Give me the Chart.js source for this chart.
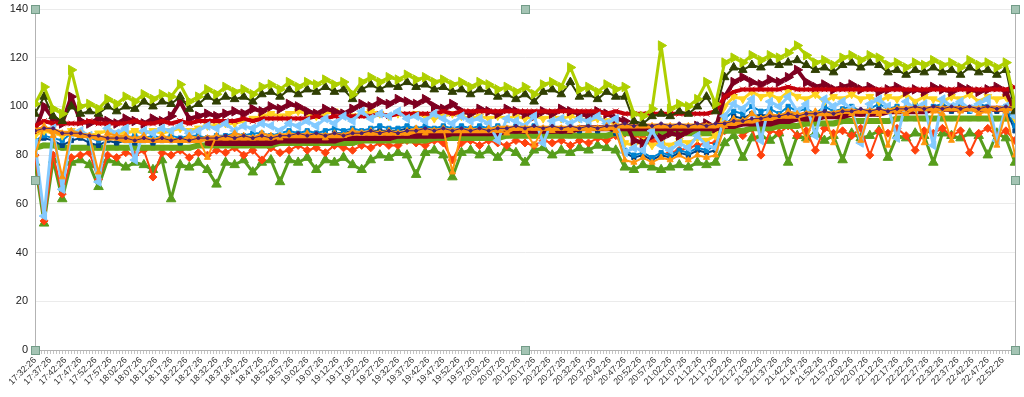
<!DOCTYPE html>
<html>
<head>
<meta charset="utf-8">
<script src="https://cdn.jsdelivr.net/npm/chart.js@4.4.1/dist/chart.umd.min.js"></script>
<style>
  html, body { margin: 0; padding: 0; background: #fff; }
  #wrap { width: 1024px; height: 397px; }
</style>
</head>
<body>
<div id="wrap"><canvas id="chart"></canvas></div>
<script>
// tick labels, one every 5 minutes
const tickLabels = ['17:32:26','17:37:26','17:42:26','17:47:26','17:52:26','17:57:26',
  '18:02:26','18:07:26','18:12:26','18:17:26','18:22:26','18:27:26','18:32:26','18:37:26','18:42:26','18:47:26','18:52:26','18:57:26',
  '19:02:26','19:07:26','19:12:26','19:17:26','19:22:26','19:27:26','19:32:26','19:37:26','19:42:26','19:47:26','19:52:26','19:57:26',
  '20:02:26','20:07:26','20:12:26','20:17:26','20:22:26','20:27:26','20:32:26','20:37:26','20:42:26','20:47:26','20:52:26','20:57:26',
  '21:02:26','21:07:26','21:12:26','21:17:26','21:22:26','21:27:26','21:32:26','21:37:26','21:42:26','21:47:26','21:52:26','21:57:26',
  '22:02:26','22:07:26','22:12:26','22:17:26','22:22:26','22:27:26','22:32:26','22:37:26','22:42:26','22:47:26','22:52:26']

// series values, read every 3 minutes
const lime = [101,108,99,97,115,100,101,99,103,101,
  104,102,105,103,105,104,109,102,104,107,
  105,108,106,107,105,108,109,107,110,108,
  110,109,111,109,110,105,110,112,110,112,
  111,113,111,112,110,111,109,110,108,110,
  109,107,108,106,108,105,109,110,108,116,
  107,108,106,109,107,108,97,96,99,125,
  99,101,100,103,110,101,118,120,118,121,
  119,121,120,122,125,121,118,119,117,120,
  121,119,121,120,117,118,116,118,117,119,
  117,118,116,119,117,118,116,118,101]
const olive = [97,104,96,94,100,97,98,97,100,98,
  100,99,102,100,102,101,104,99,101,104,
  102,104,103,104,102,105,106,104,107,105,
  107,106,108,106,107,103,107,109,107,109,
  108,110,108,109,107,108,106,107,105,107,
  106,104,105,103,105,102,106,107,105,110,
  104,105,103,106,104,104,94,93,96,97,
  96,98,97,100,104,98,112,116,115,117,
  116,118,117,118,119,117,115,116,114,117,
  118,116,118,117,114,115,113,115,114,116,
  114,115,113,116,114,115,113,115,98]
const maroon = [90,100,95,93,104,94,93,95,94,93,
  95,94,93,95,94,96,102,95,96,97,
  96,97,98,97,99,98,100,99,101,100,
  98,97,99,98,97,99,101,100,102,101,
  103,102,101,103,100,99,101,98,97,99,
  98,97,99,98,97,96,98,97,99,98,
  97,96,98,97,95,94,86,85,88,87,
  89,88,90,92,93,91,104,110,112,110,
  109,111,110,112,115,110,108,109,107,108,
  109,107,108,106,107,108,106,107,106,108,
  107,106,108,107,106,107,108,106,98]
const red = [92,94,93,93,93,93,94,93,93,93,
  93,94,93,93,94,93,94,93,94,94,
  94,94,94,95,94,95,95,95,95,95,
  95,96,95,96,96,96,96,96,97,96,
  97,97,97,97,97,98,97,98,98,98,
  98,98,98,98,98,98,98,98,98,98,
  98,98,98,97,98,97,97,97,97,97,
  97,97,97,97,97,98,104,106,107,107,
  107,107,107,108,107,107,107,107,107,107,
  107,107,107,107,107,107,107,107,107,107,
  107,107,107,107,107,107,107,107,108]
// no readings before 18:32
const maroonTrend = [null,null,null,null,null,null,null,null,null,null,
  null,null,null,null,null,null,null,null,null,85,
  85,85,85,85,85,85,85,86,86,86,
  86,86,86,86,87,87,87,87,87,87,
  88,88,88,88,88,88,89,89,89,89,
  89,89,90,90,90,90,90,90,90,90,
  91,91,91,91,91,91,91,91,91,91,
  91,91,91,91,91,91,92,92,93,93,
  93,93,94,94,95,95,95,96,96,96,
  97,97,97,97,98,98,98,98,98,99,
  99,99,99,99,99,99,99,99,99]
const orangeTrend = [90,91,90,89,89,88,88,87,87,87,
  86,86,86,86,86,86,86,86,86,87,
  87,87,87,87,87,87,87,88,88,88,
  88,88,88,88,88,89,89,89,89,89,
  89,89,90,90,90,90,90,90,90,90,
  90,91,91,91,91,91,91,91,91,91,
  91,91,91,91,92,92,92,92,92,92,
  92,92,92,92,92,92,93,93,94,94,
  95,95,96,96,96,97,97,97,97,98,
  98,98,98,98,98,99,99,99,99,99,
  99,99,99,99,99,99,99,99,99]
const purple = [90,91,91,89,89,89,88,88,87,87,
  87,86,87,86,87,86,87,86,87,87,
  87,88,87,88,87,88,87,88,88,89,
  88,89,88,89,88,89,89,90,89,90,
  89,90,90,91,90,91,90,91,90,91,
  90,91,91,92,91,92,91,92,91,92,
  91,92,91,92,92,93,92,93,92,93,
  92,93,92,93,92,93,93,94,94,95,
  95,96,96,97,96,97,97,98,97,98,
  98,99,98,99,98,99,99,100,99,100,
  99,100,99,100,99,100,99,100,99]
const orange = [80,92,88,71,90,89,88,73,89,88,
  88,87,88,86,88,87,86,88,87,79,
  88,87,89,88,87,89,88,87,89,88,
  89,88,87,89,88,90,89,90,89,90,
  89,90,91,89,90,91,73,90,91,90,
  91,90,89,91,90,84,91,90,91,90,
  91,90,91,92,90,78,77,79,77,79,
  78,80,78,80,79,80,92,95,94,97,
  95,97,96,98,97,86,98,97,85,98,
  97,86,98,97,84,98,97,99,85,98,
  97,86,98,99,97,98,84,98,80]
const lightBlue = [85,55,91,66,89,90,88,69,91,89,
  91,78,90,89,91,90,92,89,90,92,
  91,93,90,92,91,93,92,90,93,92,
  94,92,95,93,96,94,98,95,97,96,
  98,95,96,94,97,95,93,96,94,95,
  93,86,95,94,92,96,85,94,95,93,
  95,94,96,93,95,81,83,82,90,84,
  82,85,83,88,84,83,96,101,99,103,
  86,102,100,104,98,101,88,103,100,102,
  99,85,101,103,100,87,102,99,101,84,
  103,100,102,99,101,103,86,100,96]
const yellow = [88,90,89,88,90,89,88,89,90,89,
  89,90,89,90,89,90,91,90,91,92,
  92,93,93,94,95,96,97,96,97,98,
  97,96,97,98,97,96,97,98,97,96,
  97,96,97,96,95,96,97,96,95,96,
  95,96,95,96,95,96,95,96,95,96,
  95,94,95,94,93,85,84,86,84,85,
  84,86,85,87,86,88,100,104,103,106,
  104,105,103,106,104,103,105,102,104,103,
  105,103,104,102,104,103,105,102,104,103,
  102,104,103,105,102,104,103,104,95]
const blue = [86,88,87,86,89,88,87,86,87,88,
  87,88,87,88,87,88,87,88,88,87,
  88,88,89,88,89,89,88,89,90,89,
  90,89,90,91,90,91,90,91,92,91,
  91,92,91,92,91,92,91,92,91,92,
  91,92,91,92,91,92,91,92,91,92,
  91,92,91,92,90,82,80,81,79,81,
  80,82,81,83,82,84,95,98,97,100,
  98,99,97,100,98,99,97,100,98,99,
  100,98,99,101,99,100,98,101,99,100,
  101,99,100,98,101,100,99,100,92]
const darkBlue = [85,87,86,84,86,87,85,84,86,85,
  86,85,86,85,86,86,85,86,86,87,
  86,87,87,86,87,87,88,87,88,88,
  88,89,88,89,89,90,89,90,90,90,
  90,91,90,91,90,91,90,91,90,91,
  90,91,90,91,90,91,90,91,90,91,
  90,91,90,91,89,81,79,80,78,80,
  79,81,80,82,81,82,92,96,95,97,
  96,97,95,98,96,97,96,98,97,98,
  98,97,98,99,98,99,98,99,98,99,
  99,98,99,98,99,99,98,99,90]
const greenTrend = [83,84,84,83,83,83,83,83,83,83,
  83,83,83,83,83,83,83,83,84,84,
  84,84,84,84,84,84,84,85,85,85,
  85,85,85,85,85,85,86,86,86,86,
  86,86,86,86,87,87,87,87,87,87,
  87,87,88,88,88,88,88,88,88,88,
  88,88,88,88,89,89,89,89,89,89,
  89,89,89,89,89,89,90,90,90,91,
  91,91,92,92,92,93,93,93,93,94,
  94,94,94,94,94,95,95,95,95,95,
  95,95,95,95,95,95,95,95,95]
const orangeRed = [80,53,80,64,79,80,81,70,80,79,
  81,80,82,71,81,80,82,79,81,80,
  82,81,83,80,82,78,83,81,82,84,
  82,83,81,84,83,82,84,83,85,84,
  84,86,85,84,86,85,78,85,86,84,
  86,85,84,86,85,84,86,85,86,84,
  86,85,87,86,88,89,88,87,86,85,
  81,82,83,84,85,85,90,92,88,91,
  80,90,89,92,88,90,82,91,89,90,
  88,91,80,90,89,91,88,82,90,89,
  91,88,90,81,89,91,88,90,86]
const green = [77,52,78,62,77,78,76,67,78,77,
  75,77,76,74,78,62,76,75,77,74,
  68,77,76,78,73,77,78,69,78,77,
  79,74,78,77,79,76,74,78,80,79,
  81,80,72,81,82,80,71,81,82,80,
  82,79,83,81,77,82,83,80,82,81,
  83,82,84,83,82,75,74,76,75,74,
  75,76,75,77,76,77,85,88,79,87,
  88,86,89,77,88,87,89,86,88,78,
  89,87,88,90,79,88,87,89,88,77,
  89,88,87,89,88,80,89,87,77]

const minutes = lime.map((v, i) => i * 3)

function series(label, values, color, style, radius, width, rotation) {
  return {
    label: label,
    data: values.map((y, i) => ({ x: minutes[i], y: y })),
    borderColor: color,
    backgroundColor: color,
    pointBackgroundColor: color,
    pointBorderColor: color,
    pointBorderWidth: 1,
    pointStyle: style,
    pointRadius: radius,
    pointRotation: rotation || 0,
    borderWidth: width,
    borderJoinStyle: 'round',
    tension: 0
  }
}

// first dataset is drawn on top
const datasets = [
  series('lime', lime, '#aecf00', 'triangle', 5.5, 3, 90),
  series('olive', olive, '#314004', 'triangle', 5, 2, 0),
  series('purple', purple, '#4b1f6f', 'circle', 1.5, 1, 0),
  series('orangeTrend', orangeTrend, '#ff950e', 'triangle', 3.5, 5, 0),
  series('orange', orange, '#ff950e', 'triangle', 3.5, 2, 0),
  series('lightBlue', lightBlue, '#83caff', 'triangle', 5, 3, -90),
  series('red', red, '#c5000b', 'crossRot', 4, 4, 0),
  series('maroon', maroon, '#7e0021', 'triangle', 5.5, 4, 90),
  series('maroonTrend', maroonTrend, '#7e0021', 'rect', 3, 6, 0),
  series('yellow', yellow, '#ffd320', 'triangle', 4.5, 3, 180),
  series('blue', blue, '#0084d1', 'rect', 3, 2, 0),
  series('darkBlue', darkBlue, '#004586', 'rect', 3, 2, 0),
  series('greenTrend', greenTrend, '#6aa81a', 'rect', 3, 6, 0),
  series('orangeRed', orangeRed, '#ff420e', 'rectRot', 4, 2, 0),
  series('green', green, '#579d1c', 'triangle', 5.5, 3, 0)
]

const frame = {
  id: 'frame',
  afterDraw(chart) {
    const ctx = chart.ctx
    const a = chart.chartArea
    ctx.save()
    ctx.strokeStyle = '#b3b3b3'
    ctx.lineWidth = 1
    ctx.beginPath()
    ctx.moveTo(Math.round(a.right) + 0.5, a.top)
    ctx.lineTo(Math.round(a.right) + 0.5, a.bottom)
    ctx.stroke()
    const mx = (a.left + a.right) / 2
    const my = (a.top + a.bottom) / 2
    const spots = [[a.left, a.top], [mx, a.top], [a.right, a.top], [a.left, my], [a.right, my],
      [a.left, a.bottom], [mx, a.bottom], [a.right, a.bottom]]
    spots.forEach(p => {
      const x = Math.round(p[0]), y = Math.round(p[1])
      ctx.fillStyle = '#a4c4b4'
      ctx.fillRect(x - 4, y - 4, 9, 9)
      ctx.strokeStyle = '#739c88'
      ctx.strokeRect(x - 3.5, y - 3.5, 8, 8)
    })
    ctx.restore()
  }
}

new Chart(document.getElementById('chart'), {
  type: 'line',
  data: { datasets: datasets },
  plugins: [frame],
  options: {
    responsive: true,
    maintainAspectRatio: false,
    animation: false,
    layout: { padding: { top: 0, right: 9, left: 0, bottom: 0 } },
    plugins: { legend: { display: false }, tooltip: { enabled: false } },
    scales: {
      x: {
        type: 'linear',
        min: 0,
        max: 324,
        afterFit(s) { s.height = 47 },
        grid: { drawOnChartArea: false, color: '#c4c4c4', tickLength: 4 },
        border: { color: '#b3b3b3' },
        ticks: {
          stepSize: 1,
          autoSkip: false,
          minRotation: 45,
          maxRotation: 45,
          padding: 1,
          color: '#333',
          font: { family: 'Liberation Sans', size: 9 },
          callback: v => (v % 5 === 0 ? tickLabels[v / 5] : '')
        }
      },
      y: {
        min: 0,
        max: 140,
        afterFit(s) { s.width = 35; s.paddingTop = 9; s.paddingBottom = 0 },
        grid: { color: '#ebebeb', drawTicks: false },
        border: { color: '#b3b3b3' },
        ticks: {
          stepSize: 20,
          padding: 7,
          color: '#222',
          font: { family: 'Liberation Sans', size: 11 }
        }
      }
    }
  }
})
</script>
</body>
</html>
